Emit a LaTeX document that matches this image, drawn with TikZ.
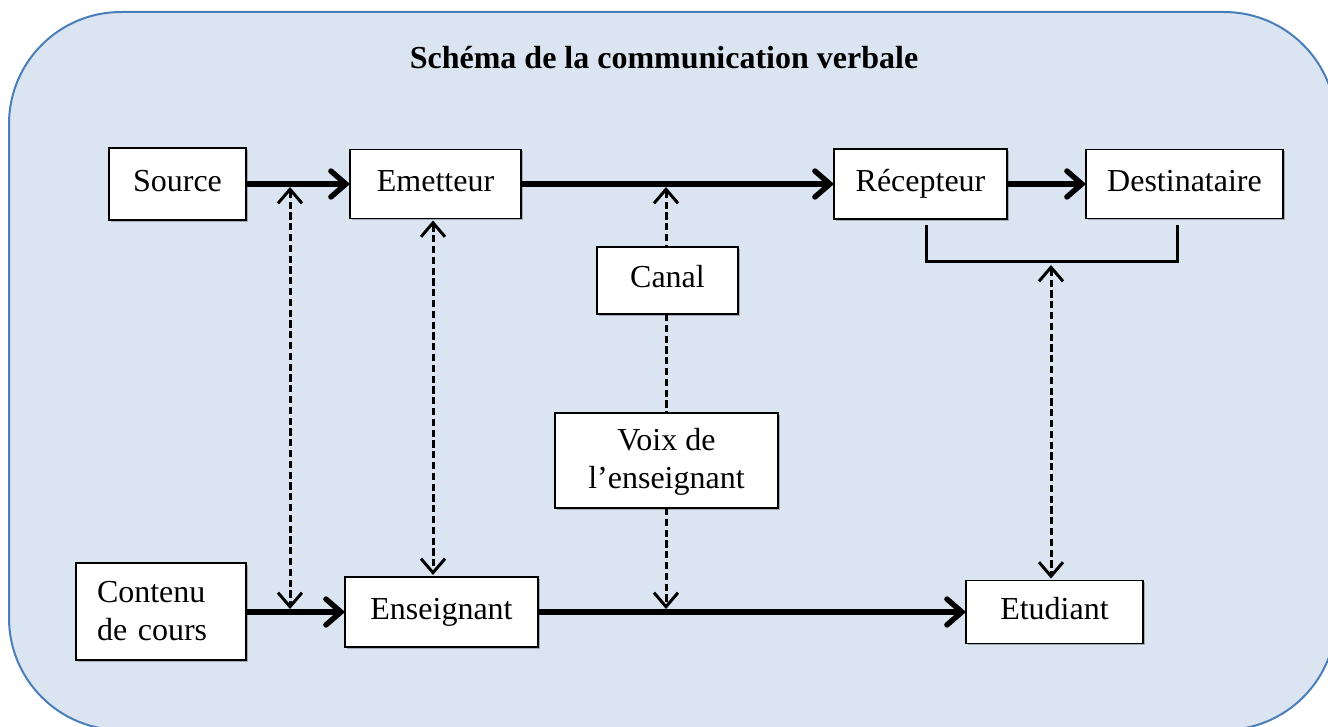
\documentclass[tikz,border=0pt]{standalone}
\usepackage{fontspec}
\setmainfont{Liberation Serif}
\usetikzlibrary{arrows.meta,shadows}
\definecolor{panelfill}{HTML}{DBE5F1}
\definecolor{panelline}{HTML}{4A7EBB}
\tikzset{
  box/.style={draw=black, line width=0.7pt, fill=white, inner sep=0pt, outer sep=0pt,
    drop shadow={shadow xshift=0.8pt, shadow yshift=-0.8pt, opacity=0.25, fill=black},
    font=\fontsize{16pt}{19pt}\selectfont, align=center},
  oneline/.style={text height=11pt, text depth=3.5pt},
  flow/.style={line width=2.7pt, -{Straight Barb[length=7.5pt,width=13pt,line cap=round]}},
  link/.style={line width=1.5pt, dash pattern=on 3.6pt off 1.8pt},
  tip/.tip={Straight Barb[length=7pt,width=12pt]},
  bracket/.style={line width=1.5pt},
}
\begin{document}
\begin{tikzpicture}[x=0.5pt,y=-0.5pt]
\useasboundingbox (0,0) rectangle (1328,727);
% rounded panel behind the diagram
\draw[panelline, line width=1pt, fill=panelfill, rounded corners=56pt] (9,12) rectangle (1336,730);

\node[font=\bfseries\fontsize{16pt}{19pt}\selectfont] (title) at (664,58) {Schéma de la communication verbale};

% upper row
\node[box, oneline, minimum width=68.5pt, minimum height=36pt] (src)   at (177.5,184) {Source};
\node[box, oneline, minimum width=85.5pt, minimum height=34.5pt] (emet) at (435.5,184) {Emetteur};
\node[box, oneline, minimum width=86.5pt, minimum height=35pt] (recep) at (920.5,184) {Récepteur};
\node[box, oneline, minimum width=98.5pt, minimum height=34.5pt] (dest) at (1184.5,184) {Destinataire};
% middle column
\node[box, oneline, minimum width=70.5pt, minimum height=33.5pt] (canal) at (667.5,280.5) {Canal};
\node[box, minimum width=111.5pt, minimum height=47.5pt, text depth=2pt] (voix) at (666.5,460.5) {Voix de\\l’enseignant};
% lower row
\node[box, minimum width=85pt, minimum height=48.5pt, align=left, text width=64pt] (cont) at (161,611.5) {Contenu\\de cours};
\node[box, oneline, minimum width=96.5pt, minimum height=35pt] (ens) at (441.5,612) {Enseignant};
\node[box, oneline, minimum width=88.5pt, minimum height=31.5pt] (etu) at (1054.5,612) {Etudiant};

% solid flows
\draw[flow] (src.east) -- (emet.west);
\draw[flow] (emet.east) -- (recep.west);
\draw[flow] (recep.east) -- (dest.west);
\draw[flow] (cont.east |- ens.west) -- (ens.west);
\draw[flow] (ens.east) -- (etu.west);

% junction points on the flows
\coordinate (jTopA) at (290,187);
\coordinate (jBotA) at (290,609);
\coordinate (jTopC) at (666,187);
\coordinate (jBotC) at (666,609);
\coordinate (xE) at (433,0);
\coordinate (xC) at (666,0);

% bracket under Récepteur and Destinataire
\coordinate (brL) at (926,225);
\coordinate (brB) at (1051,262);
\coordinate (brR) at (1177,225);
\draw[bracket] (brL) |- (brB) -| (brR);

% dashed links
\draw[link, tip-tip] (jTopA) -- (jBotA);
\draw[link, tip-tip] ([yshift=-1pt]xE |- emet.south) -- ([yshift=1pt]xE |- ens.north);
\draw[link, tip-] (jTopC) -- (xC |- canal.north);
\draw[link] (xC |- canal.south) -- (xC |- voix.north);
\draw[link, -tip] (xC |- voix.south) -- (jBotC);
\draw[link, tip-tip] ([yshift=-1.5pt]brB) -- ([yshift=1pt]brB |- etu.north);
\end{tikzpicture}
\end{document}
